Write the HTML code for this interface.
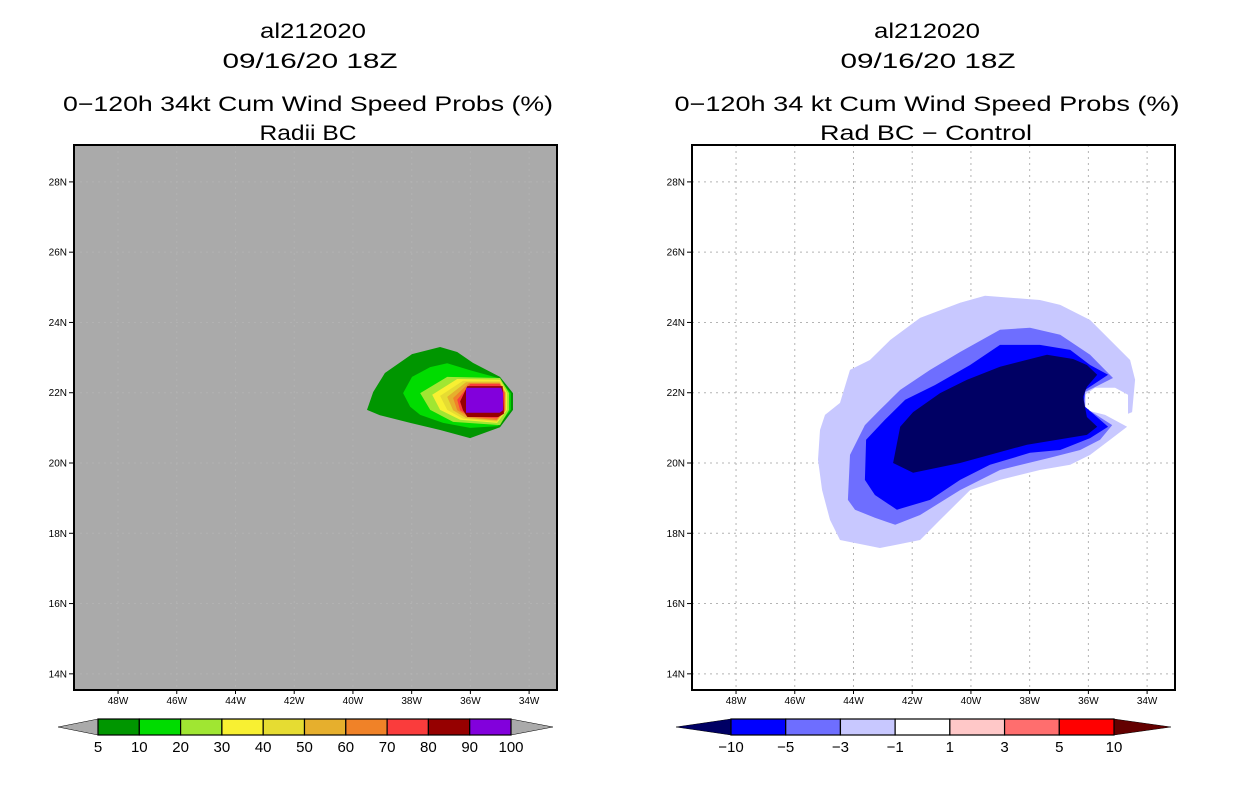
<!DOCTYPE html>
<html><head><meta charset="utf-8"><style>
html,body{margin:0;padding:0;background:#fff;}
svg{display:block;font-family:"Liberation Sans",sans-serif;}
</style></head><body>
<svg id="chart" width="1236" height="800" viewBox="0 0 1236 800" xmlns="http://www.w3.org/2000/svg">
<g id="titles">
<text x="313" y="38" font-size="21" text-anchor="middle" textLength="106" lengthAdjust="spacingAndGlyphs">al212020</text>
<text x="310" y="68" font-size="21" text-anchor="middle" textLength="175" lengthAdjust="spacingAndGlyphs">09/16/20 18Z</text>
<text x="308" y="111" font-size="21" text-anchor="middle" textLength="490" lengthAdjust="spacingAndGlyphs">0−120h 34kt Cum Wind Speed Probs (%)</text>
<text x="308" y="140" font-size="21" text-anchor="middle" textLength="97" lengthAdjust="spacingAndGlyphs">Radii BC</text>
<text x="927" y="38" font-size="21" text-anchor="middle" textLength="106" lengthAdjust="spacingAndGlyphs">al212020</text>
<text x="928" y="68" font-size="21" text-anchor="middle" textLength="175" lengthAdjust="spacingAndGlyphs">09/16/20 18Z</text>
<text x="927" y="111" font-size="21" text-anchor="middle" textLength="505" lengthAdjust="spacingAndGlyphs">0−120h 34 kt Cum Wind Speed Probs (%)</text>
<text x="926" y="140" font-size="21" text-anchor="middle" textLength="212" lengthAdjust="spacingAndGlyphs">Rad BC − Control</text>
</g>
<g id="left"></g>
<g id="right"></g>
</svg>
<script>
const latTicks=[14,16,18,20,22,24,26,28];
const lonTicks=[-48,-46,-44,-42,-40,-38,-36,-34];
const leftLevels=["5","10","20","30","40","50","60","70","80","90","100"];
const leftColors=["#009600","#00dc00","#a0e632","#f8f032","#e6dc32","#e6af2d","#f08228","#fa3c3c","#960000","#8200dc"];
const rightLevels=["−10","−5","−3","−1","1","3","5","10"];
const rightColors=["#0000ff","#6e6eff","#c8c8ff","#ffffff","#ffc8c8","#ff6e6e","#ff0000"];
const leftBand5=[[-39.52,21.51],[-39.31,22.02],[-38.91,22.56],[-37.99,23.10],[-37.03,23.30],[-36.45,23.16],[-35.91,22.85],[-34.99,22.45],[-34.55,21.99],[-34.55,21.51],[-34.99,21.02],[-36.01,20.71],[-37.03,20.94],[-38.05,21.14],[-39.08,21.36]];
const leftBand10=[[-38.29,21.99],[-37.99,22.45],[-37.37,22.73],[-36.79,22.84],[-36.01,22.64],[-35.05,22.42],[-34.62,21.99],[-34.62,21.51],[-35.06,21.05],[-36.01,21.0],[-36.93,21.14],[-37.71,21.37],[-38.05,21.60]];
const leftBand20=[[-37.71,21.99],[-36.79,22.45],[-34.99,22.42],[-34.68,21.99],[-34.68,21.51],[-34.99,21.08],[-36.59,21.17],[-37.37,21.51]];
const leftBand30=[[-37.30,21.94],[-36.45,22.39],[-34.99,22.37],[-34.75,21.99],[-34.75,21.51],[-35.09,21.14],[-36.35,21.23],[-37.03,21.51]];
const leftBand40=[[-37.03,21.91],[-36.25,22.34],[-34.99,22.34],[-34.78,21.99],[-34.78,21.51],[-35.09,21.17],[-36.25,21.26],[-36.79,21.51]];
const leftBand50=[[-36.79,21.88],[-36.15,22.30],[-35.0,22.30],[-34.80,22.0],[-34.80,21.5],[-35.1,21.2],[-36.15,21.28],[-36.59,21.5]];
const leftBand60=[[-36.59,21.85],[-36.05,22.27],[-35.0,22.27],[-34.82,22.0],[-34.82,21.5],[-35.1,21.22],[-36.05,21.30],[-36.45,21.5]];
const leftBand70=[[-36.45,21.8],[-36.0,22.25],[-35.0,22.25],[-34.84,22.0],[-34.84,21.45],[-35.1,21.27],[-36.0,21.32],[-36.35,21.5]];
const leftBand80=[[-36.35,21.75],[-36.1,22.19],[-34.9,22.19],[-34.86,21.4],[-35.05,21.31],[-36.1,21.31],[-36.25,21.5]];
const leftBand90=[[-36.15,22.14],[-34.95,22.14],[-34.89,22.0],[-34.89,21.5],[-35.0,21.43],[-36.15,21.43]];
const rightBandM1=[[-45.14,20.94],[-44.97,21.37],[-44.46,21.71],[-44.12,22.65],[-43.44,22.93],[-42.75,23.50],[-41.73,24.13],[-40.37,24.56],[-39.52,24.76],[-37.65,24.64],[-36.96,24.50],[-35.94,24.07],[-35.26,23.50],[-34.58,22.93],[-34.41,22.37],[-34.51,21.45],[-34.65,21.40],[-34.65,21.94],[-35.09,22.14],[-35.77,22.14],[-36.11,21.94],[-36.11,21.51],[-35.43,21.37],[-34.68,21.03],[-35.26,20.66],[-35.94,20.23],[-36.62,19.95],[-37.65,19.80],[-39.01,19.52],[-40.03,19.23],[-41.05,18.38],[-41.73,17.81],[-43.10,17.58],[-44.46,17.81],[-44.80,18.38],[-45.07,19.23],[-45.21,20.09]];
const rightBandM3=[[-44.19,18.95],[-44.12,20.23],[-43.61,21.08],[-43.10,21.51],[-42.41,22.08],[-41.39,22.65],[-40.37,23.16],[-39.01,23.79],[-37.99,23.85],[-36.96,23.65],[-35.94,23.08],[-35.16,22.42],[-36.11,22.02],[-36.11,21.57],[-35.19,21.08],[-35.60,20.66],[-36.28,20.37],[-37.31,20.15],[-39.01,19.80],[-40.37,19.23],[-41.73,18.52],[-42.58,18.24],[-43.27,18.44],[-43.95,18.67]];
const rightBandM5=[[-43.61,19.52],[-43.57,20.66],[-42.93,21.23],[-42.24,21.80],[-41.22,22.22],[-40.03,22.79],[-39.01,23.36],[-37.65,23.36],[-36.62,23.22],[-35.94,22.79],[-35.33,22.51],[-36.11,22.08],[-36.18,21.65],[-35.33,21.03],[-35.94,20.71],[-36.96,20.37],[-37.99,20.29],[-39.35,19.95],[-40.37,19.52],[-41.39,18.95],[-42.52,18.67],[-43.27,19.09]];
const rightBandM10=[[-42.41,21.03],[-42.65,20.00],[-41.97,19.72],[-40.37,20.00],[-38.09,20.52],[-36.05,20.80],[-35.70,21.03],[-36.05,21.31],[-36.18,21.88],[-36.05,22.17],[-35.70,22.51],[-36.05,22.79],[-36.52,22.96],[-37.41,23.08],[-39.01,22.74],[-40.13,22.37],[-41.05,21.99],[-41.97,21.45]];

const NS='http://www.w3.org/2000/svg';
function mk(parent,tag,attrs){const e=document.createElementNS(NS,tag);for(const k in attrs)e.setAttribute(k,attrs[k]);parent.appendChild(e);return e;}
const LON0=-49.5,LON1=-33.05,LAT0=13.54,LAT1=29.05;
function panel(g,bx,bg){
  const x0=bx,x1=bx+483,y0=145,y1=690;
  const xs=lon=>x0+(lon-LON0)/(LON1-LON0)*(x1-x0);
  const ys=lat=>y1-(lat-LAT0)/(LAT1-LAT0)*(y1-y0);
  const r=mk(g,'rect',{x:x0,y:y0,width:x1-x0,height:y1-y0,fill:bg});
  
  
  return {xs,ys,x0,x1,y0,y1};
}
function poly(g,ax,pts,fill,name){
  const p=mk(g,'polygon',{points:pts.map(q=>ax.xs(q[0]).toFixed(1)+','+ax.ys(q[1]).toFixed(1)).join(' '),fill:fill});
  
  
}
function grid(g,ax,color,dash){
  lonTicks.forEach(v=>{const l=mk(g,'line',{x1:ax.xs(v),x2:ax.xs(v),y1:ax.y0,y2:ax.y1,stroke:color,'stroke-width':1,'stroke-dasharray':dash});
    
    });
  latTicks.forEach(v=>{const l=mk(g,'line',{x1:ax.x0,x2:ax.x1,y1:ax.ys(v),y2:ax.ys(v),stroke:color,'stroke-width':1,'stroke-dasharray':dash});
    
    });
}
function axes(g,ax){
  const f=mk(g,'rect',{x:ax.x0,y:ax.y0,width:ax.x1-ax.x0,height:ax.y1-ax.y0,fill:'none',stroke:'#000','stroke-width':2});
  
  
  latTicks.forEach(v=>{const y=ax.ys(v);
    mk(g,'line',{x1:ax.x0-5,x2:ax.x0,y1:y,y2:y,stroke:'#000'});
    const t=mk(g,'text',{x:ax.x0-7,y:y+3.5,'font-size':10,'text-anchor':'end'});t.textContent=v+'N';
    
    });
  lonTicks.forEach(v=>{const x=ax.xs(v);
    mk(g,'line',{x1:x,x2:x,y1:ax.y1,y2:ax.y1+4,stroke:'#000'});
    const t=mk(g,'text',{x:x,y:ax.y1+14,'font-size':10,'text-anchor':'middle'});t.textContent=(-v)+'W';
    
    });
}
function colorbar(g,xa,xb,xl,xr,colors,labels,lowC,highC){
  const y0=719,y1=735,ym=727,n=colors.length,w=(xb-xa)/n;
  const a=mk(g,'polygon',{points:`${xl},${ym} ${xa},${y0} ${xa},${y1}`,fill:lowC,stroke:'#000','stroke-width':0.5});
  
  
  const b=mk(g,'polygon',{points:`${xr},${ym} ${xb},${y0} ${xb},${y1}`,fill:highC,stroke:'#000','stroke-width':0.5});
  
  
  colors.forEach((c,i)=>{const r=mk(g,'rect',{x:xa+i*w,y:y0,width:w,height:y1-y0,fill:c,stroke:'#000','stroke-width':1.2});
    
    });
  labels.forEach((s,i)=>{const t=mk(g,'text',{x:xa+i*w,y:752,'font-size':15,'text-anchor':'middle'});t.textContent=s;
    
    });
}
const gl=document.getElementById('left');
const axL=panel(gl,74,'#aaaaaa');
grid(gl,axL,'#b2b2b2','2,4');
[leftBand5,leftBand10,leftBand20,leftBand30,leftBand40,leftBand50,leftBand60,leftBand70,leftBand80,leftBand90].forEach((b,i)=>poly(gl,axL,b,leftColors[i],'prob-band-'+leftLevels[i]));
axes(gl,axL);
colorbar(gl,98,511,58,553,leftColors,leftLevels,'#aaaaaa','#aaaaaa');
const gr=document.getElementById('right');
const axR=panel(gr,692,'#ffffff');
grid(gr,axR,'#b4b4b4','2,4');
poly(gr,axR,rightBandM1,'#c8c8ff','diff-band-minus1');
poly(gr,axR,rightBandM3,'#6e6eff','diff-band-minus3');
poly(gr,axR,rightBandM5,'#0000ff','diff-band-minus5');
poly(gr,axR,rightBandM10,'#000064','diff-band-minus10');
axes(gr,axR);
colorbar(gr,731,1114,676,1171,rightColors,rightLevels,'#000064','#640000');
</script>
</body></html>
